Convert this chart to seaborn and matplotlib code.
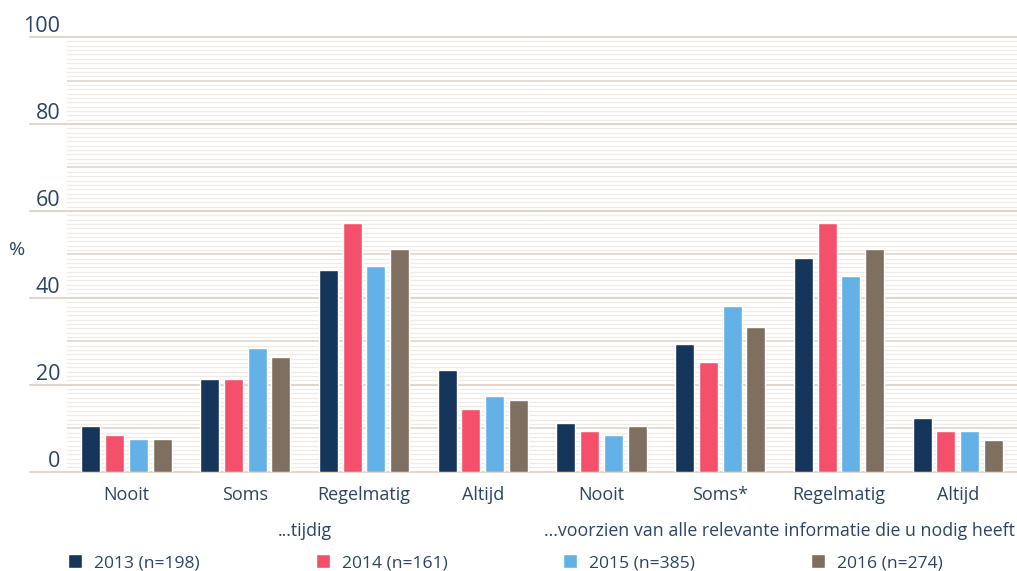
import pandas as pd
import numpy as np
import seaborn as sns
import matplotlib.pyplot as plt
from matplotlib.patches import Patch

# data
answers_a = ['Nooit', 'Soms', 'Regelmatig', 'Altijd']
answers_b = ['Nooit', 'Soms*', 'Regelmatig', 'Altijd']
years = ['2013 (n=198)', '2014 (n=161)', '2015 (n=385)', '2016 (n=274)']
tijdig = {
    '2013 (n=198)': [10.5, 21.3, 46.3, 23.3],
    '2014 (n=161)': [8.4, 21.3, 57.3, 14.4],
    '2015 (n=385)': [7.5, 28.4, 47.4, 17.4],
    '2016 (n=274)': [7.5, 26.3, 51.3, 16.4],
}
informatie = {
    '2013 (n=198)': [11.2, 29.3, 49.2, 12.3],
    '2014 (n=161)': [9.3, 25.3, 57.3, 9.3],
    '2015 (n=385)': [8.4, 38.2, 45.1, 9.3],
    '2016 (n=274)': [10.5, 33.2, 51.3, 7.2],
}
panel_titles = ['...tijdig', '...voorzien van alle relevante informatie die u nodig heeft']
colors = ['#16355a', '#f4506b', '#63b1e6', '#7e6f60']
text_color = '#2b4468'


def to_long(values, answers):
    rows = []
    for y in years:
        for a, v in zip(answers, values[y]):
            rows.append({'antwoord': a, 'jaar': y, 'pct': v})
    return pd.DataFrame(rows)


sns.set_style('white')
plt.rcParams['font.family'] = ['Open Sans', 'DejaVu Sans']
plt.rcParams['text.color'] = text_color

fig, axes = plt.subplots(1, 2, figsize=(10.17, 5.71), dpi=100, sharey=True)
fig.subplots_adjust(left=0.066, right=1.0, top=0.935, bottom=0.174, wspace=0)

for i, (ax, vals, answers, title) in enumerate(zip(axes, [tijdig, informatie],
                                                   [answers_a, answers_b], panel_titles)):
    df = to_long(vals, answers)
    # background texture: faint lines every unit, stronger every 10
    for v in np.arange(1, 100, 1):
        if v % 10:
            ax.axhline(v, color='#f1ebe7', lw=0.9, zorder=0)
    for v in range(10, 100, 20):
        ax.axhline(v, color='#e0d6ce', lw=1.2, zorder=0)
    ext = -37 / 476 if i == 0 else 0
    for v in range(0, 101, 20):
        ax.axhline(v, xmin=ext, color='#e0d6ce', lw=1.5, zorder=0, clip_on=False)

    sns.barplot(data=df, x='antwoord', y='pct', hue='jaar', palette=colors,
                width=0.8, gap=0.2, ax=ax, saturation=1, zorder=3, legend=False)
    ax.set_ylim(0, 100)
    ax.set_xlim(-0.5, 3.5)
    ax.set_xlabel(title, fontsize=12.8, color=text_color, labelpad=13)
    ax.set_ylabel('')
    for s in ax.spines.values():
        s.set_visible(False)
    ax.tick_params(axis='x', length=0, labelsize=13, labelcolor=text_color, pad=10)
    ax.tick_params(axis='y', length=0, labelsize=15.5, labelcolor=text_color, pad=5)

axes[0].set_yticks(range(0, 101, 20))
for lab in axes[0].get_yticklabels():
    lab.set_va('bottom')
axes[0].set_ylabel('%', rotation=0, fontsize=14, color=text_color)
axes[0].yaxis.set_label_coords(-0.105, 0.49)

handles = [Patch(facecolor=c) for c in colors]
fig.legend(handles, years, loc='lower center', bbox_to_anchor=(0.497, -0.028), ncol=4,
           frameon=False, fontsize=12.6, handlelength=0.8, handleheight=0.8,
           handletextpad=0.7, columnspacing=6.6, labelcolor=text_color)

plt.savefig('out.png', dpi=100)
